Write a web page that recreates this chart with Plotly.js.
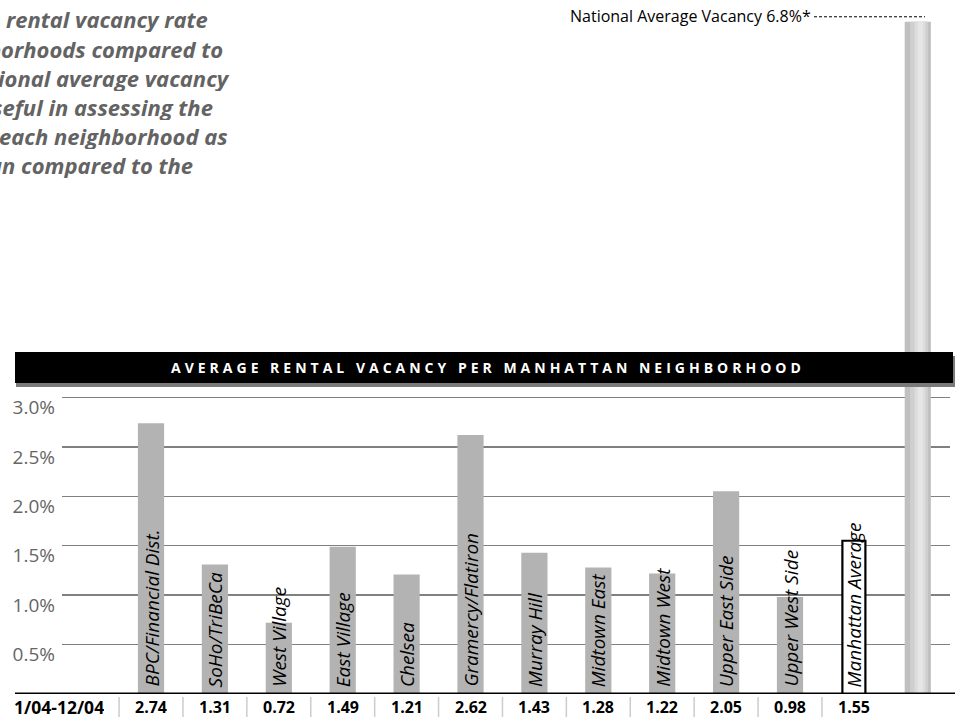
<!DOCTYPE html>
<html>
<head>
<meta charset="utf-8">
<script src="https://cdn.plot.ly/plotly-3.0.1.min.js"></script>
<style>
  html, body { margin: 0; padding: 0; background: #ffffff; }
  #chart { width: 958px; height: 717px; }
  g.annotation[data-index="0"] text { letter-spacing: 4.0px; }
</style>
</head>
<body>
<div id="chart"></div>
<script>
// ---- data ----
const neighborhoods = ["BPC/Financial Dist.", "SoHo/TriBeCa", "West Village", "East Village", "Chelsea",
  "Gramercy/Flatiron", "Murray Hill", "Midtown East", "Midtown West", "Upper East Side", "Upper West Side"];
const neighborhoodValues = [2.74, 1.31, 0.72, 1.49, 1.21, 2.62, 1.43, 1.28, 1.22, 2.05, 0.98];
const manhattanLabel = "Manhattan Average";
const manhattanValue = 1.55;
const nationalLabel = "National Average";
const nationalValue = 6.8;
const periodLabel = "1/04-12/04";
const chartTitle = "AVERAGE RENTAL VACANCY PER MANHATTAN NEIGHBORHOOD";
const nationalNote = "National Average Vacancy 6.8%*";
const yTickVals = [0.5, 1.0, 1.5, 2.0, 2.5, 3.0];
const yTickText = ["0.5%", "1.0%", "1.5%", "2.0%", "2.5%", "3.0%"];
const introLines = ["e rental vacancy rate", "borhoods compared to", "ional average vacancy",
  "seful in assessing the", "each neighborhood as", "an compared to the"];

// ---- layout helpers ----
const W = 958, H = 717;
const mL = 62, mR = 8, mT = 2, mB = 23;
const plotW = W - mL - mR, plotH = H - mT - mB;
const px2paperX = px => (px - mL) / plotW;
const py2paperY = py => (H - mB - py) / plotH;

const categories = neighborhoods.concat([manhattanLabel, nationalLabel]);
const tableLabels = neighborhoods.concat([manhattanLabel]);
const tableValues = neighborhoodValues.concat([manhattanValue]);

const BW = 0.41;
const traces = [
  { type: "bar", x: neighborhoods, y: neighborhoodValues, width: BW,
    marker: { color: "#b3b3b3", line: { width: 0 } }, hoverinfo: "skip" },
  { type: "bar", x: [manhattanLabel], y: [manhattanValue], width: 0.36,
    marker: { color: "#ffffff", line: { color: "#000000", width: 2.2 } }, hoverinfo: "skip" },
  { type: "bar", x: [nationalLabel], y: [nationalValue], width: BW,
    marker: { color: "#c0c0c0", line: { width: 0 } }, hoverinfo: "skip" },
  { type: "bar", x: [nationalLabel], y: [nationalValue], width: 0.28, offset: -0.12,
    marker: { color: "#cfcfcf", line: { width: 0 } }, hoverinfo: "skip" },
  { type: "bar", x: [nationalLabel], y: [nationalValue], width: 0.17, offset: -0.05,
    marker: { color: "#dcdcdc", line: { width: 0 } }, hoverinfo: "skip" },
  { type: "bar", x: [nationalLabel], y: [nationalValue], width: 0.08, offset: 0.0,
    marker: { color: "#e6e6e6", line: { width: 0 } }, hoverinfo: "skip" }
];

const shapes = [];
// separators in the value row
for (let i = 0; i < tableLabels.length; i++) {
  shapes.push({ type: "line", xref: "x", yref: "paper", x0: i - 0.5, x1: i - 0.5,
    y0: py2paperY(697), y1: py2paperY(717), line: { color: "#cccccc", width: 1.5 }, layer: "above" });
}
// baseline
shapes.push({ type: "line", xref: "paper", yref: "y", x0: px2paperX(15), x1: px2paperX(955), y0: 0, y1: 0,
  line: { color: "#000000", width: 3 }, layer: "above" });
// title bar shadow + bar
shapes.push({ type: "rect", xref: "paper", yref: "paper", x0: px2paperX(16), x1: px2paperX(955),
  y0: py2paperY(387), y1: py2paperY(356), fillcolor: "#7a7a7a", line: { width: 0 }, layer: "above" });
shapes.push({ type: "rect", xref: "paper", yref: "paper", x0: px2paperX(15), x1: px2paperX(953),
  y0: py2paperY(383), y1: py2paperY(352), fillcolor: "#000000", line: { width: 0 }, layer: "above" });
// national dashed leader
shapes.push({ type: "line", xref: "paper", yref: "y", ysizemode: "pixel", yanchor: nationalValue,
  x0: px2paperX(814), x1: px2paperX(925), y0: 5, y1: 5,
  line: { color: "#000000", width: 1, dash: "3px,2px" }, layer: "above" });

const annotations = [];
annotations.push({ text: chartTitle, xref: "paper", yref: "paper", x: px2paperX(488), y: py2paperY(367.5),
  xanchor: "center", yanchor: "middle", showarrow: false,
  font: { family: "Open Sans", size: 14, weight: 700, color: "#ffffff" } });
annotations.push({ text: nationalNote, xref: "paper", yref: "y", x: px2paperX(813), y: nationalValue,
  yshift: 6, xanchor: "right", yanchor: "middle", showarrow: false,
  font: { family: "Open Sans", size: 16, color: "#000000" } });
annotations.push({ text: periodLabel, xref: "paper", yref: "y", x: px2paperX(13), y: 0, yshift: -12.5,
  xanchor: "left", yanchor: "middle", showarrow: false, borderpad: 0, height: 15,
  font: { family: "Open Sans", size: 17.5, weight: 700, color: "#000000" } });
for (let i = 0; i < tableLabels.length; i++) {
  annotations.push({ text: tableValues[i].toFixed(2), xref: "x", yref: "y", x: tableLabels[i], y: 0, yshift: -13,
    xanchor: "center", yanchor: "middle", showarrow: false, borderpad: 0, height: 16,
    font: { family: "Open Sans", size: 16, weight: 700, color: "#000000" } });
  annotations.push({ text: tableLabels[i], xref: "x", yref: "y", x: tableLabels[i], y: 0, yshift: 5,
    textangle: -90, xanchor: "center", yanchor: "bottom", showarrow: false,
    font: { family: "Open Sans", size: 19, style: "italic", color: "#000000" } });
}
const introRight = [209, 224, 231, 214, 229, 194];
for (let k = 0; k < introLines.length; k++) {
  annotations.push({ text: introLines[k], xref: "paper", yref: "paper",
    x: px2paperX(introRight[k]), y: py2paperY(19 + 29 * k), xanchor: "right", yanchor: "middle",
    showarrow: false, borderpad: 0, height: 27,
    font: { family: "Open Sans", size: 22, weight: 700, style: "italic", color: "#636363" } });
}

const layout = {
  width: W, height: H,
  margin: { l: mL, r: mR, t: mT, b: mB, pad: 0 },
  paper_bgcolor: "#ffffff", plot_bgcolor: "#ffffff",
  barmode: "overlay",
  showlegend: false,
  xaxis: { type: "category", categoryorder: "array", categoryarray: categories,
    range: [-1.393, 12.504], showticklabels: false, showgrid: false, zeroline: false,
    showline: false, ticks: "", fixedrange: true },
  yaxis: { range: [0, 7], tickvals: yTickVals, ticktext: yTickText, showgrid: true,
    gridcolor: "#808080", gridwidth: 1.5, zeroline: false, showline: false, ticks: "",
    ticklabelshift: 10, ticklabelstandoff: 6,
    tickfont: { family: "Open Sans", size: 19, color: "#666666" }, fixedrange: true },
  shapes: shapes,
  annotations: annotations
};

Plotly.newPlot("chart", traces, layout, { displayModeBar: false, staticPlot: true });
</script>
</body>
</html>
